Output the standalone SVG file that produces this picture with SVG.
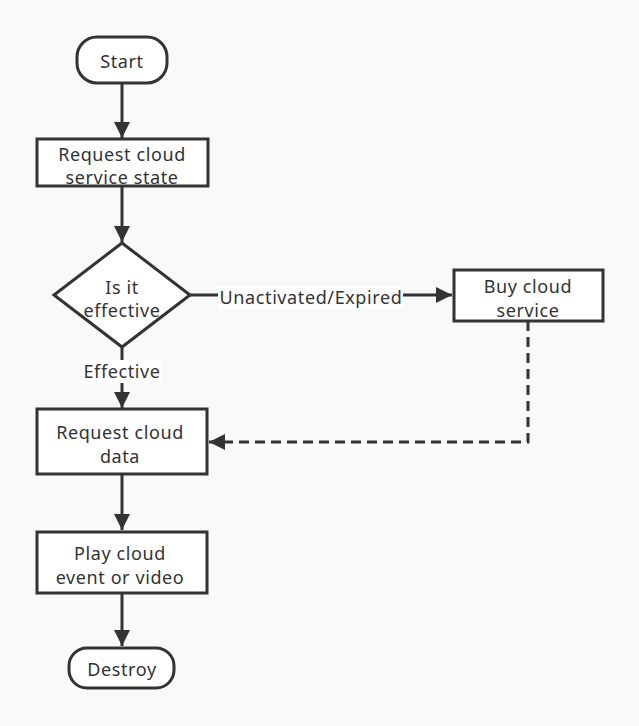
<svg xmlns="http://www.w3.org/2000/svg" width="639" height="726" viewBox="0 0 639 726">
<style>
.n{fill:#fff;stroke:#333;stroke-width:3}
.t{font-family:"Noto Sans","Liberation Sans",sans-serif;font-size:18px;letter-spacing:0.6px;fill:#333;text-anchor:middle;dominant-baseline:central}
.c{fill:none;stroke:#333;stroke-width:3}
.d{stroke-dasharray:10 6}
.lb{fill:#fff}
</style>
<defs>
<marker id="a" markerUnits="userSpaceOnUse" markerWidth="18" markerHeight="16" refX="16" refY="8" orient="auto">
<path d="M0,0 L16,8 L0,16 Z" fill="#333"/>
</marker>
</defs>
<rect width="639" height="726" fill="#f9f9f9"/>
<g id="connectors">
<path class="c" d="M122,83 V138" marker-end="url(#a)"/>
<path class="c" d="M122,186 V242" marker-end="url(#a)"/>
<path class="c" d="M122,347 V408" marker-end="url(#a)"/>
<path class="c" d="M190,295 H452" marker-end="url(#a)"/>
<path class="c d" d="M528,321 V442 H209" marker-end="url(#a)"/>
<path class="c" d="M122,474 V530" marker-end="url(#a)"/>
<path class="c" d="M122,593 V646" marker-end="url(#a)"/>
<rect class="lb" x="82" y="360" width="80" height="23"/>
<text class="t" x="122" y="371">Effective</text>
<rect class="lb" x="218" y="286" width="185" height="23"/>
<text class="t" x="311" y="297">Unactivated/Expired</text>
</g>
<g id="start">
<rect class="n" x="77" y="37" width="90" height="46" rx="20"/>
<text class="t" x="122" y="61">Start</text>
</g>
<g id="request-state">
<rect class="n" x="37" y="139" width="171" height="47"/>
<text class="t" x="122" y="154">Request cloud</text>
<text class="t" x="122" y="177">service state</text>
</g>
<g id="decision">
<path class="n" d="M122,243 L190,295 L122,347 L54,295 Z"/>
<text class="t" x="122" y="287">Is it</text>
<text class="t" x="122" y="310">effective</text>
</g>
<g id="buy">
<rect class="n" x="454" y="270" width="149" height="51"/>
<text class="t" x="528" y="286">Buy cloud</text>
<text class="t" x="528" y="310">service</text>
</g>
<g id="request-data">
<rect class="n" x="37" y="409" width="170" height="65"/>
<text class="t" x="120" y="432">Request cloud</text>
<text class="t" x="120" y="456">data</text>
</g>
<g id="play">
<rect class="n" x="37" y="532" width="170" height="61"/>
<text class="t" x="120" y="553">Play cloud</text>
<text class="t" x="120" y="577">event or video</text>
</g>
<g id="destroy">
<rect class="n" x="69" y="648" width="105" height="40" rx="18"/>
<text class="t" x="122" y="669">Destroy</text>
</g>
</svg>
